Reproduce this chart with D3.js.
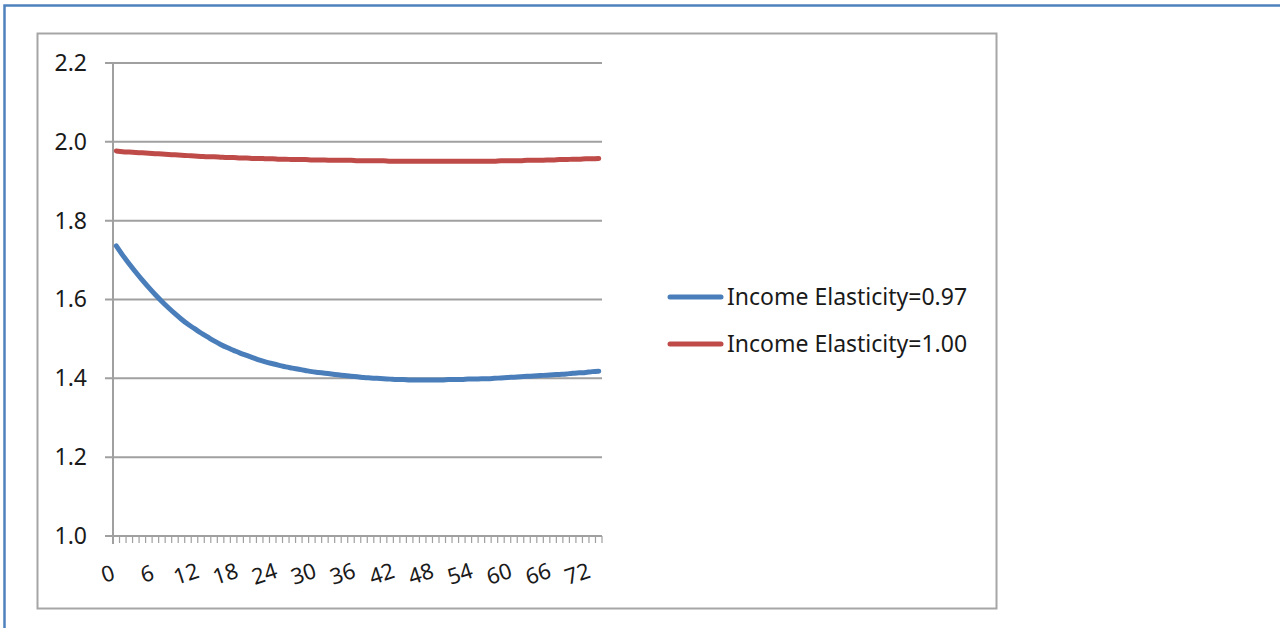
<!DOCTYPE html>
<html>
<head>
<meta charset="utf-8">
<script src="https://cdn.jsdelivr.net/npm/d3@7"></script>
<style>
  html, body { margin: 0; padding: 0; background: #fff; }
  svg { display: block; }
</style>
</head>
<body>
<svg id="chart" width="1280" height="628"></svg>
<script>
// Months since shock, 0..74
const months = d3.range(0, 75);

// Ratio path under income elasticity 0.97
const elasticity097 = [
  1.736, 1.712, 1.690, 1.669, 1.649, 1.630, 1.612, 1.595, 1.579, 1.564,
  1.550, 1.537, 1.526, 1.515, 1.505, 1.495, 1.486, 1.478, 1.471, 1.464,
  1.458, 1.452, 1.446, 1.441, 1.437, 1.433, 1.429, 1.426, 1.423, 1.420,
  1.417, 1.415, 1.413, 1.411, 1.409, 1.407, 1.405, 1.404, 1.402, 1.401,
  1.400, 1.399, 1.398, 1.397, 1.397, 1.396, 1.396, 1.396, 1.396, 1.396,
  1.396, 1.397, 1.397, 1.397, 1.398, 1.398, 1.399, 1.399, 1.400, 1.401,
  1.402, 1.403, 1.404, 1.405, 1.406, 1.407, 1.408, 1.409, 1.410, 1.411,
  1.413, 1.414, 1.415, 1.417, 1.418
];

// Ratio path under income elasticity 1.00
const elasticity100 = [
  1.977, 1.975, 1.974, 1.973, 1.972, 1.971, 1.970, 1.969, 1.968, 1.967,
  1.966, 1.965, 1.964, 1.963, 1.962, 1.962, 1.961, 1.960, 1.960, 1.959,
  1.959, 1.958, 1.958, 1.957, 1.957, 1.956, 1.956, 1.955, 1.955, 1.955,
  1.954, 1.954, 1.954, 1.953, 1.953, 1.953, 1.953, 1.952, 1.952, 1.952,
  1.952, 1.952, 1.951, 1.951, 1.951, 1.951, 1.951, 1.951, 1.951, 1.951,
  1.951, 1.951, 1.951, 1.951, 1.951, 1.951, 1.951, 1.951, 1.951, 1.952,
  1.952, 1.952, 1.952, 1.953, 1.953, 1.953, 1.954, 1.954, 1.955, 1.955,
  1.956, 1.956, 1.957, 1.957, 1.958
];

const seriesNames = ["Income Elasticity=0.97", "Income Elasticity=1.00"];
const seriesColors = ["#4a7ebb", "#be4b48"];
const yTicks = [1.0, 1.2, 1.4, 1.6, 1.8, 2.0, 2.2];
const xLabelMonths = [0, 6, 12, 18, 24, 30, 36, 42, 48, 54, 60, 66, 72];

const svg = d3.select("#chart");
const font = "'Noto Sans', 'Open Sans', sans-serif";

// Outer document border
svg.append("path")
  .attr("d", "M4.5,628 L4.5,5.5 L1280,5.5")
  .attr("fill", "none")
  .attr("stroke", "#4f81bd")
  .attr("stroke-width", 2.5);

// Chart frame
svg.append("rect")
  .attr("x", 37.5).attr("y", 33.5)
  .attr("width", 959).attr("height", 575)
  .attr("fill", "#fff")
  .attr("stroke", "#a6a6a6")
  .attr("stroke-width", 2);

const plot = { left: 113, right: 602, top: 63, bottom: 536 };

const x = d3.scaleBand()
  .domain(months)
  .range([plot.left, plot.right])
  .paddingInner(0).paddingOuter(0);

const y = d3.scaleLinear()
  .domain([1.0, 2.2])
  .range([plot.bottom, plot.top]);

// Horizontal gridlines
svg.append("g")
  .selectAll("line")
  .data(yTicks)
  .join("line")
  .attr("x1", plot.left - 8).attr("x2", plot.right)
  .attr("y1", d => y(d)).attr("y2", d => y(d))
  .attr("stroke", "#a0a0a0")
  .attr("stroke-width", 2);

// Y axis labels
const yAxis = d3.axisLeft(y).tickValues(yTicks).tickFormat(d3.format(".1f")).tickSize(0).tickPadding(26);
const gy = svg.append("g").attr("transform", `translate(${plot.left},0)`).call(yAxis);
gy.select(".domain").remove();
gy.selectAll("text")
  .attr("font-family", font)
  .attr("font-size", 23)
  .attr("fill", "#1a1a1a");

// Y axis line
svg.append("line")
  .attr("x1", plot.left).attr("x2", plot.left)
  .attr("y1", plot.top).attr("y2", plot.bottom + 8)
  .attr("stroke", "#a0a0a0").attr("stroke-width", 2);

// X axis: category boundary ticks
const boundaries = months.map(m => x(m)).concat([x(months[months.length - 1]) + x.bandwidth()]);
svg.append("g")
  .selectAll("line")
  .data(boundaries)
  .join("line")
  .attr("x1", d => d).attr("x2", d => d)
  .attr("y1", plot.bottom).attr("y2", plot.bottom + 7)
  .attr("stroke", "#a0a0a0").attr("stroke-width", 1.2);

// X axis labels, tilted
svg.append("g")
  .selectAll("text")
  .data(xLabelMonths)
  .join("text")
  .attr("transform", d => `translate(${x(d) + x.bandwidth() / 2 - 6},${plot.bottom + 45}) rotate(-18)`)
  .attr("text-anchor", "middle")
  .attr("font-family", font)
  .attr("font-size", 22)
  .attr("fill", "#1a1a1a")
  .text(d => d);

// Series lines
const line = d3.line()
  .x((d, i) => x(months[i]) + x.bandwidth() / 2)
  .y(d => y(d))
  .curve(d3.curveMonotoneX);

[elasticity097, elasticity100].forEach((vals, k) => {
  svg.append("path")
    .datum(vals)
    .attr("d", line)
    .attr("fill", "none")
    .attr("stroke", seriesColors[k])
    .attr("stroke-width", 5)
    .attr("stroke-linecap", "round")
    .attr("stroke-linejoin", "round");
});

// Legend
const legend = svg.append("g");
seriesNames.forEach((name, k) => {
  const ly = 297 + k * 47;
  legend.append("line")
    .attr("x1", 670).attr("x2", 721)
    .attr("y1", ly).attr("y2", ly)
    .attr("stroke", seriesColors[k])
    .attr("stroke-width", 5)
    .attr("stroke-linecap", "round");
  legend.append("text")
    .attr("x", 727).attr("y", ly + 8)
    .attr("font-family", font)
    .attr("font-size", 23)
    .attr("fill", "#1a1a1a")
    .text(name);
});
</script>
</body>
</html>
